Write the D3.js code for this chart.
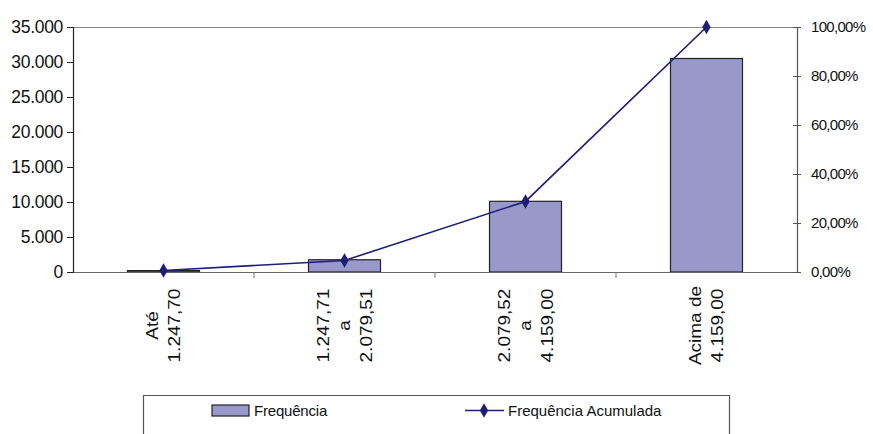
<!DOCTYPE html>
<html><head><meta charset="utf-8">
<script src="https://cdn.jsdelivr.net/npm/d3@7"></script>
<style>
body{margin:0;background:#fff;}
text{font-family:"Liberation Sans",Arial,sans-serif;fill:#111;}
</style></head>
<body>
<svg id="c" width="873" height="434"></svg>
<script>
const categories = [["Até","1.247,70"],["1.247,71","a","2.079,51"],["2.079,52","a","4.159,00"],["Acima de","4.159,00"]];
const frequencia = [200, 1750, 10100, 30500];
const acumulada = [0.6, 4.7, 28.8, 100];
const leftTicks = [0,5000,10000,15000,20000,25000,30000,35000];
const leftTickLabels = ["0","5.000","10.000","15.000","20.000","25.000","30.000","35.000"];
const rightTicks = [0,20,40,60,80,100];
const rightTickLabels = ["0,00%","20,00%","40,00%","60,00%","80,00%","100,00%"];
const seriesNames = ["Frequência","Frequência Acumulada"];

const svg = d3.select("#c");
const L=73, R=797, T=27, B=272;
const x = d3.scaleBand().domain(d3.range(categories.length)).range([L,R]).padding(0);
const yL = d3.scaleLinear().domain([0,35000]).range([B,T]);
const yR = d3.scaleLinear().domain([0,100]).range([B,T]);
const barColor="#9898CA", lineColor="#1E1E78";

// top border of plot area
svg.append("line").attr("x1",L).attr("x2",R).attr("y1",T+0.5).attr("y2",T+0.5).attr("stroke","#8a8a8a").attr("stroke-width",1.2);

// bars
const bw = 72;
svg.selectAll("rect.bar").data(frequencia).enter().append("rect")
  .attr("x",(d,i)=>x(i)+x.bandwidth()/2-bw/2)
  .attr("y",d=>yL(d))
  .attr("width",bw)
  .attr("height",d=>B-yL(d))
  .attr("fill",barColor).attr("stroke","#222").attr("stroke-width",1.2);

// baseline
svg.append("line").attr("x1",L).attr("x2",R).attr("y1",B+0.5).attr("y2",B+0.5).attr("stroke","#666").attr("stroke-width",1.2);
// category ticks
d3.range(1,categories.length).forEach(i=>{
  svg.append("line").attr("x1",x(i)).attr("x2",x(i)).attr("y1",B).attr("y2",B+6).attr("stroke","#777");
});

// left axis
const gl = svg.append("g").attr("transform",`translate(${L},0)`)
  .call(d3.axisLeft(yL).tickValues(leftTicks).tickSize(6).tickPadding(4).tickFormat((d,i)=>leftTickLabels[i]));
gl.select(".domain").attr("stroke","#222").attr("stroke-width",1.2);
gl.selectAll(".tick line").attr("stroke","#222");
gl.selectAll(".tick text").attr("font-size",17.5).attr("letter-spacing","-0.3px").attr("fill","#111");

// right axis
const gr = svg.append("g").attr("transform",`translate(${R},0)`)
  .call(d3.axisRight(yR).tickValues(rightTicks).tickSizeInner(4).tickSizeOuter(0).tickPadding(10).tickFormat((d,i)=>rightTickLabels[i]));
gr.select(".domain").attr("stroke","#555").attr("stroke-width",1.2);
gr.selectAll(".tick line").attr("x1",-4).attr("stroke","#555");
gr.selectAll(".tick text").attr("font-size",15).attr("letter-spacing","-0.7px").attr("fill","#111");

// line
const line = d3.line().x((d,i)=>x(i)+x.bandwidth()/2).y(d=>yR(d));
svg.append("path").datum(acumulada).attr("d",line).attr("fill","none").attr("stroke",lineColor).attr("stroke-width",1.6);
const diamond = d3.symbol().type(d3.symbolDiamond).size(60);
svg.selectAll("path.mk").data(acumulada).enter().append("path")
  .attr("transform",(d,i)=>`translate(${x(i)+x.bandwidth()/2},${yR(d)})`)
  .attr("d",diamond).attr("fill",lineColor);

// category labels (rotated, multiline)
const lineGap = 21.5;
categories.forEach((lines,i)=>{
  const cx = x(i)+x.bandwidth()/2;
  const n = lines.length;
  lines.forEach((t,j)=>{
    const off = (j-(n-1)/2)*lineGap;
    svg.append("text")
      .attr("transform",`translate(${cx+off+5.5},325.5) rotate(-90) scale(1,0.88)`)
      .attr("text-anchor","middle").attr("font-size",19)
      .text(t);
  });
});

// legend
const lg = svg.append("g");
lg.append("path").attr("d","M143.5,434 V395.5 H729.5 V434").attr("fill","none").attr("stroke","#555").attr("stroke-width",1.2);
lg.append("rect").attr("x",212).attr("y",405).attr("width",37).attr("height",11).attr("fill",barColor).attr("stroke","#222").attr("stroke-width",1.2);
lg.append("text").attr("x",254).attr("y",416).attr("font-size",15).attr("letter-spacing","-0.2px").text(seriesNames[0]);
lg.append("line").attr("x1",465).attr("x2",504).attr("y1",410.5).attr("y2",410.5).attr("stroke",lineColor).attr("stroke-width",1.6);
lg.append("path").attr("transform","translate(484,410.5)").attr("d",diamond).attr("fill",lineColor);
lg.append("text").attr("x",508).attr("y",416).attr("font-size",15).text(seriesNames[1]);
</script>
</body></html>
